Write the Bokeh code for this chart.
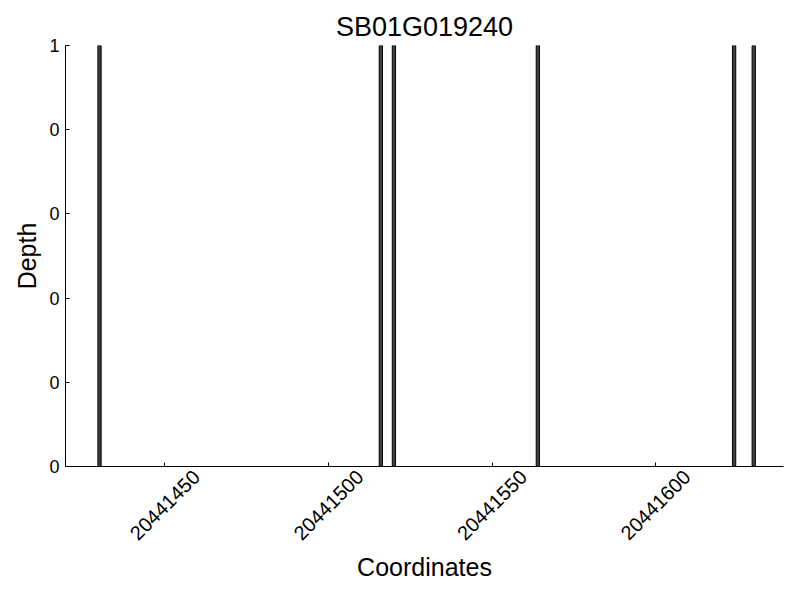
from bokeh.plotting import figure
from bokeh.models import Range1d, FixedTicker, BasicTickFormatter, LinearAxis
from bokeh.embed import file_html
from bokeh.resources import INLINE
import math

positions = [20441430, 20441516, 20441520, 20441564, 20441624, 20441630]
depth = [1, 1, 1, 1, 1, 1]
x_ticks = [20441450, 20441500, 20441550, 20441600]
y_ticks = [0, 0.2, 0.4, 0.6, 0.8, 1.0]
y_tick_labels = ["0", "0", "0", "0", "0", "1"]

X_START, X_END = 20441419.6, 20441639.1
LABEL_SHIFT = 9.6  # rotated labels are centred under their ticks

FONT = "Liberation Sans"

p = figure(width=784, height=584, output_backend="svg", toolbar_location=None,
           x_range=Range1d(X_START, X_END), y_range=Range1d(0, 1),
           title="SB01G019240",
           min_border_left=65, min_border_right=1, min_border_top=45, min_border_bottom=117)
p.extra_x_ranges = {"labels": Range1d(X_START - LABEL_SHIFT, X_END - LABEL_SHIFT)}

p.vbar(x=positions, top=depth, bottom=0, width=1.0, fill_color="#404040", line_color="black", line_width=1)

p.title.align = "center"
p.title.text_font = FONT
p.title.text_font_size = "27px"
p.title.text_font_style = "normal"
p.title.text_color = "black"
p.title.standoff = 7

p.xgrid.visible = False
p.ygrid.visible = False
p.outline_line_color = None
p.background_fill_color = "white"
p.border_fill_color = "white"

xa = p.xaxis[0]
xa.ticker = FixedTicker(ticks=x_ticks)
xa.major_label_overrides = {t: "" for t in x_ticks}
xa.major_label_text_font_size = "0px"
xa.major_label_standoff = 0
ya = p.yaxis[0]
ya.ticker = FixedTicker(ticks=y_ticks)
ya.major_label_overrides = {t: l for t, l in zip(y_ticks, y_tick_labels)}
ya.major_label_text_font_size = "18px"
ya.major_label_standoff = 6
ya.axis_label = "Depth"

for ax in (xa, ya):
    ax.major_tick_in = 4
    ax.major_tick_out = 0
    ax.minor_tick_line_color = None
    ax.axis_line_color = "black"
    ax.major_tick_line_color = "black"
    ax.major_label_text_font = FONT
    ax.major_label_text_color = "black"
    ax.axis_label_text_font = FONT
    ax.axis_label_text_font_size = "25px"
    ax.axis_label_text_font_style = "normal"
    ax.axis_label_text_color = "black"

la = LinearAxis(x_range_name="labels", ticker=FixedTicker(ticks=x_ticks),
                formatter=BasicTickFormatter(use_scientific=False),
                major_label_orientation=math.pi / 4,
                major_label_standoff=7,
                major_label_text_font=FONT, major_label_text_font_size="20px",
                major_label_text_color="black",
                axis_line_color=None, major_tick_line_color=None,
                minor_tick_line_color=None, major_tick_in=0, major_tick_out=0,
                axis_label="Coordinates", axis_label_text_font=FONT,
                axis_label_text_font_size="25px", axis_label_text_font_style="normal",
                axis_label_text_color="black", axis_label_standoff=4)
p.add_layout(la, "below")

open("out.html", "w").write(file_html(p, INLINE))
